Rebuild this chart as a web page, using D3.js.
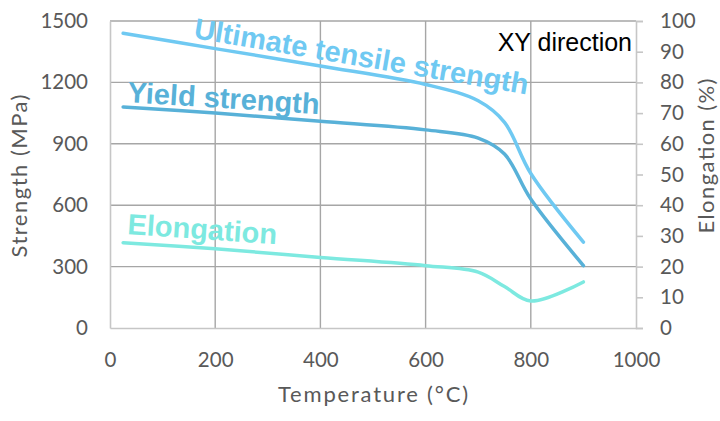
<!DOCTYPE html>
<html>
<head>
<meta charset="utf-8">
<script src="https://cdn.jsdelivr.net/npm/d3@7"></script>
<style>
	body { margin: 0; background: #fff; }
	.tick-label { font-family: Lato, "Open Sans", sans-serif; font-size: 20.5px; fill: #595959; }
	.axis-title { font-family: Lato, "Open Sans", sans-serif; font-size: 22px; fill: #595959; }
	.series-label { font-family: "Liberation Sans", Arial, sans-serif; font-weight: bold; font-size: 29px; }
</style>
</head>
<body>
<svg id="chart" width="720" height="421"></svg>
<script>
"use strict";

// Temperatures (°C) where the curves were sampled
var temperatures = [25, 200, 400, 600, 700, 750, 800, 900];
// Strength in MPa (left axis)
var ultimateStrength = [1440, 1365, 1280, 1190, 1110, 1005, 755, 420];
var yieldStrength = [1080, 1050, 1010, 968, 928, 850, 630, 305];
// Elongation in % (right axis)
var elongation = [27.8, 25.8, 23.0, 20.3, 18.2, 13.5, 8.8, 15.0];

var xTicks = [0, 200, 400, 600, 800, 1000];
var strengthTicks = [0, 300, 600, 900, 1200, 1500];
var elongationTicks = [0, 10, 20, 30, 40, 50, 60, 70, 80, 90, 100];

var svg = d3.select("#chart");
var margin = {top: 21, right: 84, bottom: 93, left: 110};
var width = +svg.attr("width") - margin.left - margin.right;
var height = +svg.attr("height") - margin.top - margin.bottom;

var x = d3.scaleLinear().domain([0, 1000]).range([0, width]);
var yLeft = d3.scaleLinear().domain([0, 1500]).range([height, 0]);
var yRight = d3.scaleLinear().domain([0, 100]).range([height, 0]);

var chart = svg.append("g")
	.attr("transform", "translate(" + margin.left + "," + margin.top + ")");

// Grid lines (darker grey than the axis lines)
var gridColour = "#a6a6a6";
chart.append("g").selectAll("line")
	.data(strengthTicks.filter(function(d) { return d > 0; }))
	.enter().append("line")
	.attr("x1", 0).attr("x2", width)
	.attr("y1", function(d) { return yLeft(d); })
	.attr("y2", function(d) { return yLeft(d); })
	.attr("stroke", gridColour).attr("stroke-width", 1.4);
chart.append("g").selectAll("line")
	.data(xTicks.filter(function(d) { return d > 0 && d < 1000; }))
	.enter().append("line")
	.attr("y1", 0).attr("y2", height)
	.attr("x1", function(d) { return x(d); })
	.attr("x2", function(d) { return x(d); })
	.attr("stroke", gridColour).attr("stroke-width", 1.4);

// Axes: left and bottom without ticks, right with small outward ticks
var axisColour = "#c6c6c6";
var plain = d3.format("d");
var leftAxis = chart.append("g")
	.call(d3.axisLeft(yLeft).tickValues(strengthTicks).tickFormat(plain).tickSize(0).tickPadding(22));
var bottomAxis = chart.append("g").attr("transform", "translate(0," + height + ")")
	.call(d3.axisBottom(x).tickValues(xTicks).tickFormat(plain).tickSize(0).tickPadding(24));
var rightAxis = chart.append("g").attr("transform", "translate(" + width + ",0)")
	.call(d3.axisRight(yRight).tickValues(elongationTicks).tickFormat(plain).tickSize(7).tickPadding(17));

[leftAxis, bottomAxis, rightAxis].forEach(function(a) {
	a.select(".domain").attr("stroke", axisColour).attr("stroke-width", 1.6);
	a.selectAll(".tick line").attr("stroke", axisColour).attr("stroke-width", 1.6);
	a.selectAll(".tick text").attr("class", "tick-label").attr("fill", null);
	a.attr("font-family", null).attr("font-size", null);
});

// Series lines, smoothed like the spreadsheet's curves
function seriesLine(values, y) {
	return d3.line()
		.x(function(d, i) { return x(temperatures[i]); })
		.y(function(d) { return y(d); })
		.curve(d3.curveCatmullRom.alpha(0.5))(values);
}

var series = [
	{name: "Ultimate tensile strength", values: ultimateStrength, y: yLeft, colour: "#6fc9f2"},
	{name: "Yield strength", values: yieldStrength, y: yLeft, colour: "#58b1d8"},
	{name: "Elongation", values: elongation, y: yRight, colour: "#7de9e0"}
];

chart.selectAll("path.series")
	.data(series)
	.enter().append("path")
	.attr("class", "series")
	.attr("fill", "none")
	.attr("stroke", function(d) { return d.colour; })
	.attr("stroke-width", 3.5)
	.attr("stroke-linecap", "round")
	.attr("d", function(d) { return seriesLine(d.values, d.y); });

// Labels written along the curves
var labelPos = [
	{x: 193, y: 38, angle: 9.6},
	{x: 127, y: 102, angle: 3.6},
	{x: 127, y: 234, angle: 3.9}
];
svg.selectAll("text.series-label")
	.data(series)
	.enter().append("text")
	.attr("class", "series-label")
	.attr("fill", function(d) { return d.colour; })
	.attr("transform", function(d, i) {
		var p = labelPos[i];
		return "translate(" + p.x + "," + p.y + ") rotate(" + p.angle + ")";
	})
	.text(function(d) { return d.name; });

svg.append("text")
	.attr("x", 632).attr("y", 51)
	.attr("text-anchor", "end")
	.attr("font-family", "'Liberation Sans', Arial, sans-serif")
	.attr("font-size", 25)
	.attr("fill", "#000")
	.text("XY direction");

// Axis titles
svg.append("text")
	.attr("class", "axis-title")
	.attr("x", 373).attr("y", 402)
	.attr("text-anchor", "middle")
	.attr("textLength", 190)
	.text("Temperature (°C)");
svg.append("text")
	.attr("class", "axis-title")
	.attr("transform", "translate(27,176) rotate(-90)")
	.attr("text-anchor", "middle")
	.attr("textLength", 163)
	.text("Strength (MPa)");
svg.append("text")
	.attr("class", "axis-title")
	.attr("transform", "translate(714,156) rotate(-90)")
	.attr("text-anchor", "middle")
	.attr("textLength", 155)
	.text("Elongation (%)");
</script>
</body>
</html>
